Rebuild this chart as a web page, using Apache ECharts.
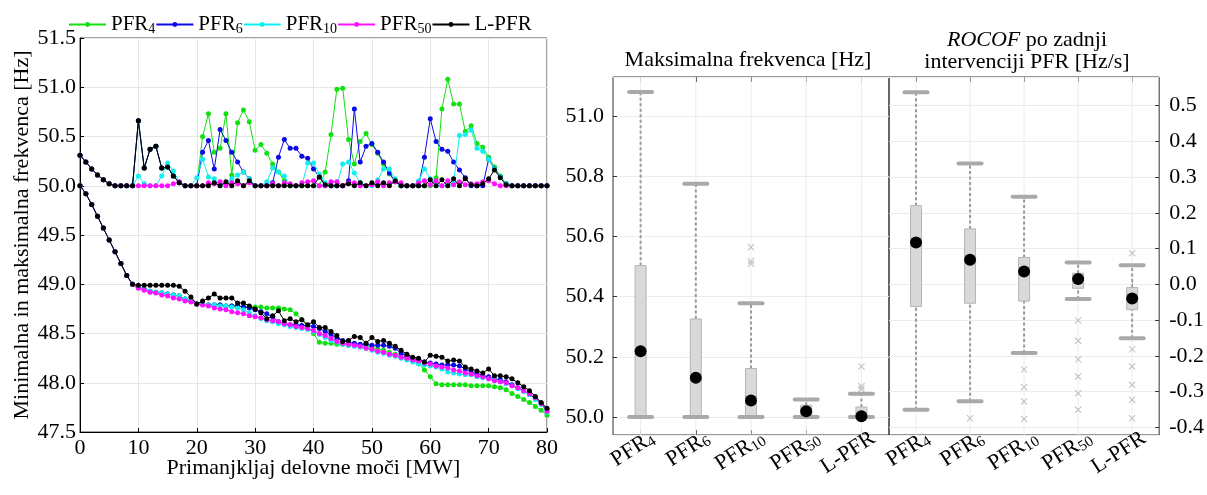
<!DOCTYPE html>
<html><head><meta charset="utf-8">
<script src="https://cdn.jsdelivr.net/npm/echarts@6/dist/echarts.min.js"></script>
<style>html,body{margin:0;padding:0;background:#fff}#c{width:1207px;height:495px}</style>
</head><body><div id="c"></div>
<script>
// ---------- Left chart data (x = power deficit in MW, 0..80 step 1) ----------
const xMW = Array.from({length: 81}, (_, i) => i);
const seriesNames = ['PFR4', 'PFR6', 'PFR10', 'PFR50', 'L-PFR'];
const seriesColors = ['#11e011', '#0a0ae6', '#10eeee', '#ff10ff', '#000000'];

// maximum frequency curves [Hz]
const maxPFR4 = [50.31,50.24,50.17,50.11,50.06,50.02,50.00,50.00,50.00,50.00,
  50.66,50.18,50.37,50.40,50.18,50.19,50.10,50.03,50.00,50.00,
  50.00,50.50,50.73,50.34,50.38,50.73,50.11,50.64,50.77,50.65,
  50.36,50.42,50.33,50.22,50.14,50.05,50.00,50.00,50.00,50.00,
  50.00,50.00,50.14,50.52,50.98,50.99,50.47,50.22,50.45,50.53,
  50.42,50.33,50.22,50.12,50.04,50.00,50.00,50.00,50.00,50.00,
  50.00,50.08,50.78,51.08,50.83,50.83,50.55,50.61,50.43,50.39,
  50.29,50.19,50.10,50.02,50.00,50.00,50.00,50.00,50.00,50.00,50.00];
const maxPFR6 = [50.31,50.24,50.17,50.11,50.06,50.02,50.00,50.00,50.00,50.00,
  50.66,50.18,50.37,50.40,50.18,50.19,50.10,50.03,50.00,50.00,
  50.00,50.34,50.46,50.17,50.57,50.46,50.34,50.24,50.14,50.07,
  50.00,50.00,50.00,50.03,50.29,50.47,50.38,50.38,50.30,50.28,
  50.17,50.09,50.00,50.00,50.00,50.00,50.05,50.78,50.24,50.40,
  50.43,50.34,50.24,50.13,50.04,50.00,50.00,50.00,50.00,50.29,
  50.68,50.45,50.37,50.35,50.24,50.16,50.08,50.00,50.00,50.00,
  50.27,50.17,50.09,50.02,50.00,50.00,50.00,50.00,50.00,50.00,50.00];
const maxPFR10 = [50.31,50.24,50.17,50.11,50.06,50.02,50.00,50.00,50.00,50.00,
  50.10,50.02,50.00,50.00,50.10,50.23,50.15,50.04,50.00,50.00,
  50.08,50.27,50.09,50.07,50.00,50.02,50.07,50.11,50.14,50.07,
  50.00,50.00,50.04,50.18,50.14,50.10,50.00,50.00,50.00,50.23,
  50.23,50.12,50.03,50.00,50.00,50.22,50.24,50.13,50.03,50.00,
  50.00,50.06,50.17,50.17,50.07,50.00,50.00,50.00,50.05,50.17,
  50.07,50.00,50.00,50.00,50.03,50.51,50.52,50.565,50.38,50.35,
  50.27,50.17,50.09,50.02,50.00,50.00,50.00,50.00,50.00,50.00,50.00];
const maxPFR50 = [50.31,50.24,50.17,50.11,50.06,50.02,50.00,50.00,50.00,50.00,
  50.00,50.00,50.00,50.00,50.00,50.00,50.02,50.04,50.00,50.00,
  50.00,50.00,50.03,50.02,50.04,50.00,50.03,50.02,50.00,50.03,
  50.00,50.00,50.00,50.02,50.00,50.03,50.02,50.00,50.03,50.04,
  50.05,50.00,50.00,50.04,50.04,50.00,50.03,50.03,50.00,50.00,
  50.01,50.04,50.00,50.03,50.04,50.03,50.00,50.00,50.03,50.05,
  50.01,50.05,50.00,50.05,50.01,50.04,50.01,50.02,50.02,50.04,
  50.05,50.02,50.00,50.00,50.00,50.00,50.00,50.00,50.00,50.00,50.00];
const maxLPFR = [50.31,50.24,50.17,50.11,50.06,50.02,50.00,50.00,50.00,50.00,
  50.66,50.18,50.37,50.40,50.18,50.19,50.10,50.03,50.00,50.00,
  50.00,50.00,50.00,50.03,50.00,50.04,50.00,50.05,50.00,50.05,
  50.00,50.00,50.00,50.00,50.00,50.00,50.00,50.00,50.00,50.00,
  50.00,50.09,50.01,50.00,50.00,50.00,50.02,50.00,50.03,50.00,
  50.03,50.00,50.03,50.00,50.05,50.00,50.00,50.00,50.00,50.00,
  50.06,50.00,50.06,50.00,50.07,50.00,50.07,50.01,50.00,50.02,
  50.07,50.16,50.08,50.01,50.00,50.00,50.00,50.00,50.00,50.00,50.00];

// minimum frequency curves [Hz]
const minPFR4 = [50.00,49.92,49.81,49.69,49.57,49.45,49.33,49.21,49.09,49.00,
  48.97,48.95,48.93,48.92,48.91,48.90,48.89,48.88,48.85,48.83,
  48.80,48.80,48.79,48.79,48.79,48.78,48.78,48.78,48.77,48.77,
  48.77,48.77,48.76,48.76,48.76,48.75,48.74,48.70,48.64,48.57,
  48.50,48.41,48.40,48.40,48.39,48.39,48.38,48.38,48.38,48.37,
  48.36,48.34,48.33,48.31,48.29,48.27,48.25,48.23,48.20,48.13,
  48.06,47.99,47.98,47.98,47.98,47.98,47.98,47.97,47.97,47.97,
  47.97,47.96,47.95,47.93,47.89,47.86,47.83,47.80,47.76,47.72,47.67];
const minPFR6 = [50.00,49.92,49.81,49.69,49.57,49.45,49.33,49.21,49.09,49.00,
  48.97,48.95,48.93,48.92,48.91,48.90,48.89,48.88,48.85,48.83,
  48.80,48.80,48.79,48.79,48.79,48.78,48.78,48.78,48.77,48.76,
  48.74,48.72,48.70,48.67,48.62,48.60,48.59,48.59,48.58,48.58,
  48.57,48.55,48.52,48.49,48.45,48.43,48.41,48.40,48.39,48.39,
  48.38,48.38,48.38,48.37,48.35,48.30,48.27,48.25,48.23,48.21,
  48.20,48.19,48.18,48.18,48.18,48.17,48.14,48.11,48.09,48.07,
  48.06,48.04,48.03,48.01,47.98,47.95,47.92,47.88,47.84,47.79,47.73];
const minPFR10 = [50.00,49.92,49.81,49.69,49.57,49.45,49.33,49.21,49.09,49.00,
  48.97,48.95,48.93,48.92,48.91,48.90,48.89,48.88,48.85,48.83,
  48.80,48.80,48.79,48.79,48.78,48.78,48.77,48.76,48.74,48.71,
  48.68,48.65,48.63,48.62,48.60,48.59,48.57,48.56,48.55,48.54,
  48.52,48.49,48.46,48.43,48.41,48.39,48.38,48.37,48.36,48.35,
  48.33,48.31,48.30,48.28,48.27,48.25,48.23,48.21,48.19,48.18,
  48.17,48.16,48.14,48.11,48.10,48.09,48.08,48.08,48.06,48.05,
  48.04,48.03,48.01,47.99,47.97,47.94,47.91,47.88,47.83,47.78,47.70];
const minPFR50 = [50.00,49.92,49.81,49.69,49.57,49.45,49.33,49.21,49.09,49.00,
  48.96,48.94,48.92,48.91,48.89,48.88,48.86,48.85,48.83,48.82,
  48.80,48.79,48.78,48.76,48.75,48.74,48.72,48.71,48.70,48.68,
  48.67,48.66,48.64,48.63,48.62,48.60,48.59,48.57,48.56,48.55,
  48.53,48.50,48.48,48.45,48.42,48.40,48.39,48.38,48.37,48.35,
  48.34,48.32,48.31,48.29,48.28,48.26,48.25,48.23,48.22,48.20,
  48.19,48.17,48.16,48.15,48.13,48.12,48.10,48.09,48.07,48.06,
  48.04,48.02,48.01,48.00,47.97,47.95,47.92,47.89,47.85,47.79,47.71];
const minLPFR = [50.00,49.92,49.81,49.69,49.57,49.45,49.33,49.21,49.09,49.00,
  48.99,48.99,48.99,48.99,48.99,48.99,48.99,48.98,48.93,48.87,
  48.80,48.83,48.86,48.90,48.86,48.86,48.86,48.81,48.81,48.78,
  48.75,48.71,48.65,48.68,48.73,48.63,48.65,48.62,48.64,48.59,
  48.62,48.56,48.56,48.52,48.48,48.42,48.43,48.47,48.46,48.40,
  48.46,48.42,48.43,48.40,48.37,48.33,48.29,48.26,48.25,48.21,
  48.28,48.27,48.26,48.22,48.23,48.22,48.16,48.14,48.12,48.10,
  48.14,48.07,48.07,48.06,48.04,48.00,47.96,47.92,47.86,47.80,47.74];

const maxCurves = [maxPFR4, maxPFR6, maxPFR10, maxPFR50, maxLPFR];
const minCurves = [minPFR4, minPFR6, minPFR10, minPFR50, minLPFR];

// ---------- Box plot statistics ----------
const boxCats = ['PFR4', 'PFR6', 'PFR10', 'PFR50', 'L-PFR'];
// Maximum frequency [Hz]
const fLow  = [50.000, 50.000, 50.000, 50.000, 50.000];
const fQ1   = [50.000, 50.000, 50.000, 50.000, 50.000];
const fQ3   = [50.503, 50.326, 50.161, 50.039, 50.033];
const fHigh = [51.080, 50.775, 50.378, 50.058, 50.077];
const fMean = [50.218, 50.130, 50.055, 50.019, 50.002];
const fOutCat = [2, 2, 2, 4, 4, 4];
const fOutVal = [50.564, 50.518, 50.509, 50.168, 50.102, 50.093];
// ROCOF after last PFR intervention [Hz/s]
const rLow  = [-0.351, -0.327, -0.192, -0.041, -0.151];
const rQ1   = [-0.062, -0.053, -0.047, -0.011, -0.071];
const rQ3   = [0.220, 0.155, 0.075, 0.031, -0.009];
const rHigh = [0.537, 0.338, 0.245, 0.061, 0.053];
const rMean = [0.117, 0.069, 0.036, 0.015, -0.040];
const rOutCat = [1, 2, 2, 2, 2, 3, 3, 3, 3, 3, 3, 4, 4, 4, 4, 4, 4];
const rOutVal = [-0.375, -0.238, -0.288, -0.328, -0.377, -0.101, -0.158, -0.210, -0.258, -0.305, -0.351,
                 0.087, -0.182, -0.230, -0.281, -0.323, -0.375];

// ---------- Chart ----------
const F = 'Liberation Serif';
const FS = 22;
const chart = echarts.init(document.getElementById('c'), null, {renderer: 'canvas'});

const makeRich = (fs, ss) => ({
  b: {fontFamily: F, fontSize: fs, color: '#000', lineHeight: 24},
  s: {fontFamily: F, fontSize: ss, color: '#000', lineHeight: 11, verticalAlign: 'bottom'}
});
const rich = makeRich(FS, 15);
const legendRich = makeRich(21, 14);
const subName = n => n.indexOf('PFR') === 0 ? '{b|PFR}{s|' + n.slice(3) + '}' : '{b|' + n + '}';

const series = [];
seriesNames.forEach((name, k) => {
  [maxCurves[k], minCurves[k]].forEach(arr => {
    series.push({
      type: 'line', name: name, xAxisIndex: 0, yAxisIndex: 0,
      data: xMW.map((x, i) => [x, arr[i]]),
      symbol: 'circle', symbolSize: 5, showSymbol: true,
      lineStyle: {width: 1, color: seriesColors[k]},
      itemStyle: {color: seriesColors[k]},
      z: 2 + k, silent: true
    });
  });
});

function makeBoxRender() {
  return function (params, api) {
    const i = api.value(0);
    const pLow = api.coord([i, api.value(1)]);
    const pQ1 = api.coord([i, api.value(2)]);
    const pQ3 = api.coord([i, api.value(3)]);
    const pHigh = api.coord([i, api.value(4)]);
    const cs = params.coordSys;
    const x = pLow[0];
    const bw = 11, cw = 23;
    const whisk = {stroke: '#9a9a9a', lineWidth: 2, lineDash: [3, 2.5]};
    const cap = {stroke: '#a9a9a9', lineWidth: 4, lineCap: 'round'};
    return {
      type: 'group',
      children: [
        {type: 'line', shape: {x1: x, y1: cs.y, x2: x, y2: cs.y + cs.height}, style: {stroke: '#ececec', lineWidth: 1}},
        {type: 'line', shape: {x1: x, y1: pQ3[1], x2: x, y2: pHigh[1]}, style: whisk},
        {type: 'line', shape: {x1: x, y1: pLow[1], x2: x, y2: pQ1[1]}, style: whisk},
        {type: 'rect', shape: {x: x - bw / 2, y: pQ3[1], width: bw, height: Math.max(pQ1[1] - pQ3[1], 0.5)},
          style: {fill: '#d9d9d9', stroke: '#b5b5b5', lineWidth: 1}},
        {type: 'line', shape: {x1: x - cw / 2, y1: pHigh[1], x2: x + cw / 2, y2: pHigh[1]}, style: cap},
        {type: 'line', shape: {x1: x - cw / 2, y1: pLow[1], x2: x + cw / 2, y2: pLow[1]}, style: cap}
      ]
    };
  };
}

const crossPath = 'path://M0,1 L1,0 L5,4 L9,0 L10,1 L6,5 L10,9 L9,10 L5,6 L1,10 L0,9 L4,5 Z';

function boxSeries(xi, yi, low, q1, q3, high, mean, outCat, outVal) {
  return [
    {type: 'custom', xAxisIndex: xi, yAxisIndex: yi, renderItem: makeBoxRender(),
      data: boxCats.map((c, i) => [i, low[i], q1[i], q3[i], high[i]]),
      encode: {x: 0, y: [1, 2, 3, 4]}, z: 2, silent: true, clip: false},
    {type: 'scatter', xAxisIndex: xi, yAxisIndex: yi, symbol: crossPath, symbolSize: 7,
      itemStyle: {color: '#bdbdbd', opacity: 1}, data: outCat.map((c, i) => [c, outVal[i]]), z: 3, silent: true},
    {type: 'scatter', xAxisIndex: xi, yAxisIndex: yi, symbol: 'circle', symbolSize: 12,
      itemStyle: {color: '#000', opacity: 1}, data: boxCats.map((c, i) => [i, mean[i]]), z: 4, silent: true}
  ];
}
series.push(...boxSeries(1, 1, fLow, fQ1, fQ3, fHigh, fMean, fOutCat, fOutVal));
series.push(...boxSeries(3, 2, rLow, rQ1, rQ3, rHigh, rMean, rOutCat, rOutVal));

const labelFont = {fontFamily: F, fontSize: FS, color: '#000'};
const boxGrid = {show: true, borderColor: '#333', borderWidth: 1, backgroundColor: 'transparent'};
const catAxisBottom = (gi) => ({
  type: 'category', gridIndex: gi, data: boxCats, position: 'bottom',
  axisLine: {show: false},
  axisTick: {show: true, inside: true, alignWithLabel: true, length: 5, lineStyle: {color: '#333'}},
  axisLabel: {rotate: 33, margin: 9, padding: [0, -14, 0, 0], formatter: subName, rich: rich},
  splitLine: {show: false}
});
const catAxisTop = (gi) => ({
  type: 'category', gridIndex: gi, data: boxCats, position: 'top',
  axisLine: {show: false},
  axisTick: {show: true, inside: true, alignWithLabel: true, length: 5, lineStyle: {color: '#333'}},
  axisLabel: {show: false}, splitLine: {show: false}
});

const option = {
  animation: false,
  backgroundColor: '#fff',
  grid: [
    {left: 80, right: 660, top: 38, bottom: 63, show: true, borderColor: '#444', borderWidth: 1},
    Object.assign({left: 613, right: 318, top: 77, bottom: 60}, boxGrid),
    Object.assign({left: 889, right: 42, top: 77, bottom: 60}, boxGrid)
  ],
  legend: {
    data: seriesNames, left: 63, top: 9, itemWidth: 37, itemHeight: 6, itemGap: 0,
    formatter: subName, textStyle: {rich: legendRich},
    selectedMode: false
  },
  xAxis: [
    {type: 'value', gridIndex: 0, min: 0, max: 80, interval: 10,
      name: 'Primanjkljaj delovne moči [MW]', nameLocation: 'middle', nameGap: 25,
      nameMoveOverlap: false,
      nameTextStyle: labelFont,
      axisLine: {show: true, lineStyle: {color: '#000'}},
      axisTick: {show: true, inside: true, length: 4, lineStyle: {color: '#000'}},
      axisLabel: Object.assign({margin: 5}, labelFont),
      splitLine: {show: true, lineStyle: {color: '#e6e6e6', width: 1}}},
    catAxisBottom(1), catAxisTop(1), catAxisBottom(2), catAxisTop(2)
  ],
  yAxis: [
    {type: 'value', gridIndex: 0, min: 47.5, max: 51.5, interval: 0.5,
      name: 'Minimalna in maksimalna frekvenca [Hz]', nameLocation: 'middle', nameGap: 47,
      nameMoveOverlap: false,
      nameTextStyle: labelFont,
      axisLine: {show: true, lineStyle: {color: '#000'}},
      axisTick: {show: true, inside: true, length: 4, lineStyle: {color: '#000'}},
      axisLabel: Object.assign({margin: 4, formatter: v => v.toFixed(1)}, labelFont),
      splitLine: {show: true, lineStyle: {color: '#e6e6e6', width: 1}}},
    {type: 'value', gridIndex: 1, min: 49.94, max: 51.13, splitNumber: 6,
      axisLine: {show: false},
      axisTick: {show: true, inside: true, length: 4, lineStyle: {color: '#333'}},
      axisLabel: Object.assign({margin: 9, showMinLabel: false, showMaxLabel: false, formatter: v => v.toFixed(1)}, labelFont),
      splitLine: {show: true, lineStyle: {color: '#ececec', width: 1}}},
    {type: 'value', gridIndex: 2, position: 'right', min: -0.4216, max: 0.58, splitNumber: 10,
      axisLine: {show: false},
      axisTick: {show: true, inside: true, length: 4, lineStyle: {color: '#333'}},
      axisLabel: Object.assign({margin: 10, showMinLabel: false, showMaxLabel: false, formatter: v => v.toFixed(1)}, labelFont),
      splitLine: {show: true, lineStyle: {color: '#ececec', width: 1}}}
  ],
  graphic: [
    {type: 'text', x: 748, y: 60, silent: true,
      style: {text: 'Maksimalna frekvenca [Hz]', fontFamily: F, fontSize: FS, fill: '#000',
        textAlign: 'center', textVerticalAlign: 'middle'}},
    {type: 'text', x: 1027, y: 51, silent: true,
      style: {text: '{i|ROCOF} po zadnji\nintervenciji PFR [Hz/s]', fontFamily: F, fontSize: FS, fill: '#000',
        lineHeight: 22, textAlign: 'center', textVerticalAlign: 'middle',
        rich: {i: {fontFamily: F, fontSize: FS, fontStyle: 'italic', fill: '#000', lineHeight: 22}}}}
  ],
  series: series
};
chart.setOption(option);
</script></body></html>
